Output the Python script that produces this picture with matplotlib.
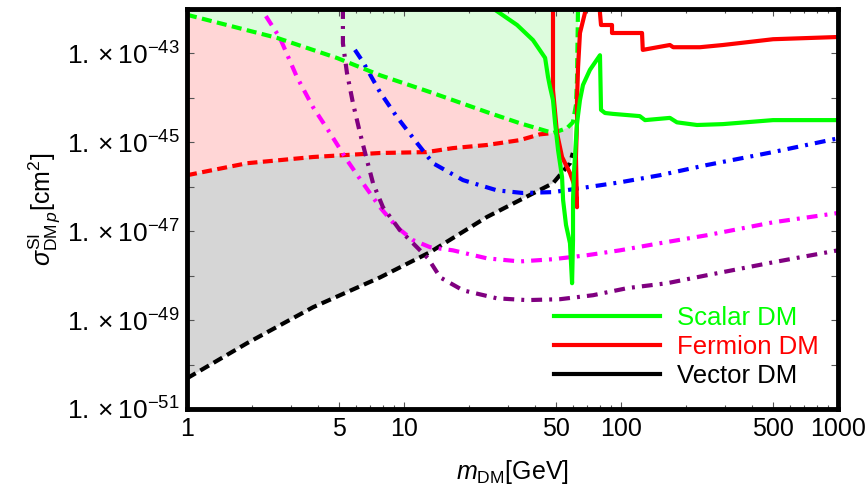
import numpy as np
import matplotlib
matplotlib.use("Agg")
import matplotlib.pyplot as plt
from matplotlib.lines import Line2D
from matplotlib.ticker import FixedLocator, NullFormatter

plt.rcParams['font.family'] = ['Liberation Sans', 'DejaVu Sans']
plt.rcParams['mathtext.fontset'] = 'custom'
plt.rcParams['mathtext.rm'] = 'Liberation Sans'
plt.rcParams['mathtext.it'] = 'Liberation Sans:italic'
plt.rcParams['mathtext.bf'] = 'Liberation Sans:bold'

# masses in GeV, cross sections as log10(sigma / cm^2)
# boundary curves (dashed)
m_green_dash = [1, 2.6, 4.9, 7.75, 13.2, 24.1, 34.2, 48.6, 56.4, 60.0, 62.0, 62.7, 63.4]
s_green_dash = [-42.13, -42.65, -43.10, -43.49, -43.87, -44.32, -44.57, -44.79, -44.68, -44.55, -44.16, -43.60, -41.9]

m_red_dash = [1, 1.89, 3.81, 7.75, 12.7, 16.8, 24.1, 34.2, 42.3, 48.6]
s_red_dash = [-45.74, -45.47, -45.33, -45.24, -45.22, -45.13, -45.06, -44.95, -44.82, -44.79]

m_black_dash = [1, 1.89, 3.81, 7.75, 13.2, 24.1, 34.2, 48.6, 58.2, 60.0]
s_black_dash = [-50.31, -49.52, -48.71, -48.04, -47.47, -46.68, -46.30, -45.92, -45.47, -45.24]

# scalar DM (green solid)
m_scalar = [26.3, 33.2, 39.3, 44.7, 46.1, 47.1, 48.6, 49.7, 51.3, 53.5, 54.1, 55.8, 58.2, 59.5,
            60.1, 60.1, 60.7, 62.7, 64.7, 66.8, 71.9, 80.0, 80.9, 84.4, 91.9, 122, 129, 168, 181,
            224, 295, 502, 1000]
s_scalar = [-42.02, -42.36, -42.70, -43.10, -43.53, -43.76, -44.05, -44.57, -45.18, -45.78, -46.30,
            -46.86, -47.27, -48.17, -47.20, -46.30, -45.69, -44.57, -44.05, -43.71, -43.37, -43.04,
            -44.27, -44.34, -44.36, -44.41, -44.50, -44.45, -44.55, -44.61, -44.59, -44.50, -44.50]

# fermion DM (red solid)
m_fermion = [48.6, 48.6, 50.7, 53.5, 58.2, 61.4, 62.7, 62.0, 62.7, 62.7, 63.4, 64.7, 68.2, 71.9,
             79.6, 80.0, 80.9, 90.9, 90.9, 125, 126, 168, 174, 231, 295, 502, 1000]
s_fermion = [-41.9, -43.82, -44.79, -45.33, -45.69, -46.01, -46.46, -45.33, -44.57, -44.05, -43.31,
             -42.54, -42.09, -41.6, -41.6, -42.09, -42.36, -42.36, -42.54, -42.54, -42.92, -42.81,
             -42.86, -42.86, -42.81, -42.68, -42.63]

# dash-dot curves
m_blue = [5.94, 6.47, 7.75, 9.28, 11.5, 13.6, 18.7, 26.8, 35.3, 48.6, 69.7, 98.9, 151, 249, 501, 1000]
s_blue = [-42.92, -43.19, -43.87, -44.43, -45.02, -45.47, -45.85, -46.08, -46.14, -46.12, -46.01,
          -45.90, -45.74, -45.51, -45.22, -44.91]

m_magenta = [2.31, 2.68, 3.21, 3.81, 4.56, 5.46, 6.47, 7.75, 9.28, 11.0, 13.2, 16.8, 24.1, 34.2,
             48.6, 69.7, 98.9, 151, 249, 501, 1000]
s_magenta = [-42.16, -42.65, -43.53, -44.21, -44.79, -45.40, -45.92, -46.46, -46.91, -47.20, -47.36,
             -47.43, -47.61, -47.68, -47.63, -47.54, -47.43, -47.27, -47.09, -46.80, -46.59]

m_purple = [5.23, 5.23, 5.46, 5.82, 6.27, 6.75, 7.2, 8.0, 9.59, 11.0, 12.9, 14.7, 18.7, 26.8, 36.9,
            52.3, 74.3, 107, 163, 249, 501, 1000]
s_purple = [-41.98, -42.77, -43.44, -44.12, -44.79, -45.40, -45.92, -46.46, -46.98, -47.27, -47.61,
            -48.04, -48.33, -48.51, -48.55, -48.53, -48.44, -48.28, -48.17, -47.99, -47.70, -47.43]

legend_labels = ['Scalar DM', 'Fermion DM', 'Vector DM']

GREEN = '#00ff00'
RED = '#ff0000'
DASH = (2.4, 1.3)
DASHDOT = (2.6, 1.7, 0.7, 1.7)


def sig(v):
    return 10.0 ** np.asarray(v)


fig = plt.figure(figsize=(8.67, 4.91), dpi=100)
ax = fig.add_axes([187 / 867, 1 - 409 / 491, 651 / 867, 400 / 491])

# shaded regions
ax.fill_between(m_green_dash, sig(s_green_dash), 1e-41, color='#ddfcdd', lw=0, zorder=0)
# pink: between red dashed and green dashed
k = m_green_dash.index(48.6)
px = np.concatenate([m_red_dash, m_green_dash[:k + 1][::-1]])
py = np.concatenate([s_red_dash, s_green_dash[:k + 1][::-1]])
ax.fill(px, sig(py), color='#ffd6d6', lw=0, zorder=0)
# gray: between black dashed and red/green dashed
j = m_green_dash.index(60.0)
gx = np.concatenate([m_black_dash, m_green_dash[k:j + 1][::-1], m_red_dash[::-1]])
gy = np.concatenate([s_black_dash, s_green_dash[k:j + 1][::-1], s_red_dash[::-1]])
ax.fill(gx, sig(gy), color='#d6d6d6', lw=0, zorder=0)

lw = 3.0
ax.plot(m_red_dash, sig(s_red_dash), color=RED, lw=lw, dashes=DASH, zorder=2)
ax.plot(m_black_dash, sig(s_black_dash), color='black', lw=lw, dashes=DASH, zorder=2)
ax.plot(m_blue, sig(s_blue), color='#0000ff', lw=lw, dashes=DASHDOT, zorder=2)
ax.plot(m_magenta, sig(s_magenta), color='#ff00ff', lw=lw, dashes=DASHDOT, zorder=2)
ax.plot(m_purple, sig(s_purple), color='#800080', lw=lw, dashes=DASHDOT, zorder=2)
ax.plot(m_green_dash, sig(s_green_dash), color=GREEN, lw=lw, dashes=DASH, zorder=3)
ax.plot(m_fermion, sig(s_fermion), color=RED, lw=lw, zorder=4)
ax.plot(m_scalar, sig(s_scalar), color=GREEN, lw=lw, zorder=5)

ax.set_xscale('log')
ax.set_yscale('log')
ax.set_xlim(1, 1000)
ax.set_ylim(1e-51, 1e-42)

# ticks
xt = [1, 5, 10, 50, 100, 500, 1000]
ax.xaxis.set_major_locator(FixedLocator(xt))
ax.set_xticklabels([str(v) for v in xt])
xminor = [d * 10 ** e for e in range(3) for d in range(2, 10) if d != 5]
ax.xaxis.set_minor_locator(FixedLocator(xminor))
ax.xaxis.set_minor_formatter(NullFormatter())

yt = [1e-51, 1e-49, 1e-47, 1e-45, 1e-43]
ax.yaxis.set_major_locator(FixedLocator(yt))
ax.set_yticklabels([r'$1.\times10^{%d}$' % int(round(np.log10(v))) for v in yt])
ax.yaxis.set_minor_locator(FixedLocator([1e-50, 1e-48, 1e-46, 1e-44]))
ax.yaxis.set_minor_formatter(NullFormatter())

ax.tick_params(which='both', direction='in', top=True, right=True, color='#555555', width=0.8)
ax.tick_params(which='major', length=5)
ax.tick_params(axis='x', which='major', pad=6, labelsize=18)
ax.tick_params(axis='y', which='major', pad=5, labelsize=19)
ax.tick_params(axis='x', which='minor', length=3)
ax.tick_params(axis='y', which='minor', length=5)

for sp in ax.spines.values():
    sp.set_linewidth(3.5)
    sp.set_zorder(10)

ax.set_xlabel(r'$m_{\rm DM}$[GeV]', fontsize=18, labelpad=12)
ax.set_ylabel(r'$\sigma^{\rm SI}_{{\rm DM}\,p}$[cm$^2$]', fontsize=18, labelpad=4)

handles = [Line2D([], [], color=GREEN, lw=3), Line2D([], [], color=RED, lw=3),
           Line2D([], [], color='black', lw=3)]
leg = ax.legend(handles, legend_labels, loc='center', bbox_to_anchor=(0.767, 0.155),
                frameon=False, fontsize=18.5, handlelength=4.15, handletextpad=0.66,
                labelspacing=0.2, borderpad=0, labelcolor=[GREEN, RED, 'black'])

fig.savefig('out.png', dpi=100)
